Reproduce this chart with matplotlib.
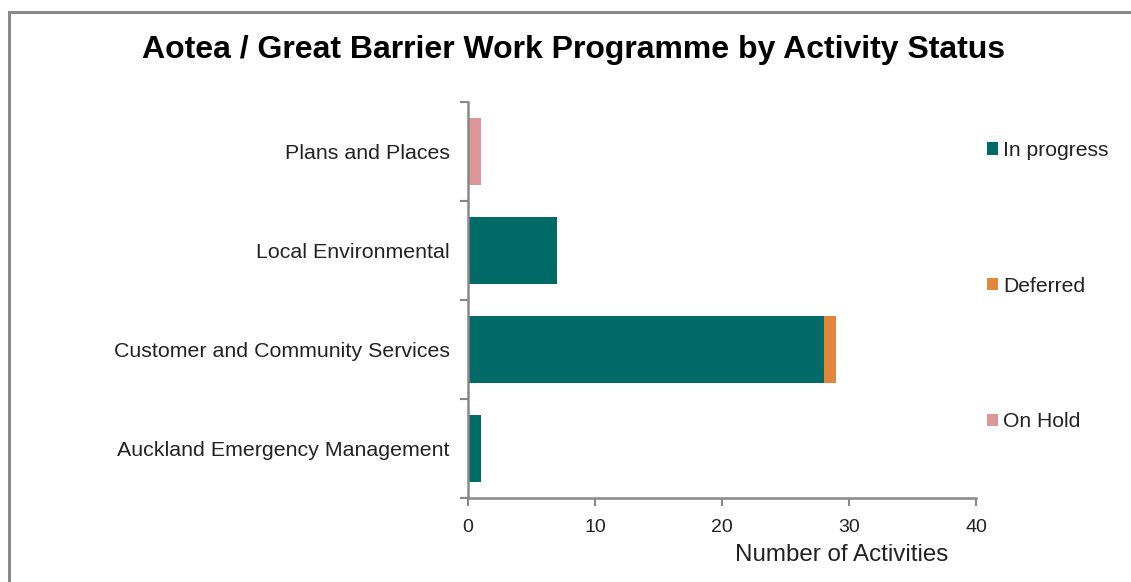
"""Aotea / Great Barrier work programme by activity status"""
import matplotlib
matplotlib.use("Agg")
import matplotlib.pyplot as plt
from matplotlib.patches import Patch, Rectangle

CATEGORIES = ["Auckland Emergency Management", "Customer and Community Services",
              "Local Environmental", "Plans and Places"]
IN_PROGRESS = [1, 28, 7, 0]
DEFERRED = [0, 1, 0, 0]
ON_HOLD = [0, 0, 0, 1]
STATUS = ["In progress", "Deferred", "On Hold"]
COLORS = ["#006B66", "#E0873F", "#DD9597"]
X_TICKS = [0, 10, 20, 30, 40]

plt.rcParams['font.family'] = ['Liberation Sans', 'DejaVu Sans']
GREY = "#888888"

fig = plt.figure(figsize=(11.31, 5.82), dpi=100)
ax = fig.add_axes([468 / 1131, 84 / 582, 508 / 1131, 396 / 582])

# outer chart border (bottom / right run off the picture)
fig.patches.append(Rectangle((9 / 1131, -0.1), 1.2, 1.1 - 12 / 582,
                             transform=fig.transFigure, fill=False,
                             edgecolor=GREY, linewidth=2.2))

y = range(len(CATEGORIES))
left = [0] * len(CATEGORIES)
for vals, col in zip([IN_PROGRESS, DEFERRED, ON_HOLD], COLORS):
    ax.barh(y, vals, left=left, height=0.67, color=col)
    left = [a + b for a, b in zip(left, vals)]

ax.set_xlim(0, 40)
ax.set_ylim(-0.5, len(CATEGORIES) - 0.5)
ax.set_xticks(X_TICKS)
ax.set_yticks(list(y))
ax.set_yticklabels(CATEGORIES, fontsize=15.4, color="#222222")
ax.set_yticks([i - 0.5 for i in range(len(CATEGORIES) + 1)], minor=True)
ax.tick_params(axis='y', which='major', length=0, pad=13)
ax.tick_params(axis='y', which='minor', length=6, width=1.5, color=GREY)
ax.tick_params(axis='x', length=6, width=1.5, color=GREY, labelsize=14,
               labelcolor="#222222", pad=9)

for s in ['top', 'right']:
    ax.spines[s].set_visible(False)
for s in ['left', 'bottom']:
    ax.spines[s].set_color(GREY)
    ax.spines[s].set_linewidth(1.8)

ax.set_xlabel("Number of Activities", fontsize=17.4, color="#222222")
ax.xaxis.set_label_coords((842 - 468) / 508, -46 / 396)

fig.text(574 / 1131, 1 - 50 / 582,
         "Aotea / Great Barrier Work Programme by Activity Status",
         ha='center', va='center', fontsize=23, fontweight='bold')

handles = [Patch(facecolor=c, edgecolor='none') for c in COLORS]
fig.legend(handles, STATUS, loc='upper left', bbox_to_anchor=(968 / 1131, 1 - 122 / 582),
           frameon=False, fontsize=15.2, handlelength=0.5, handleheight=0.5,
           handletextpad=0.25, labelspacing=5.53, labelcolor="#222222")

fig.savefig("out.png", dpi=100)
